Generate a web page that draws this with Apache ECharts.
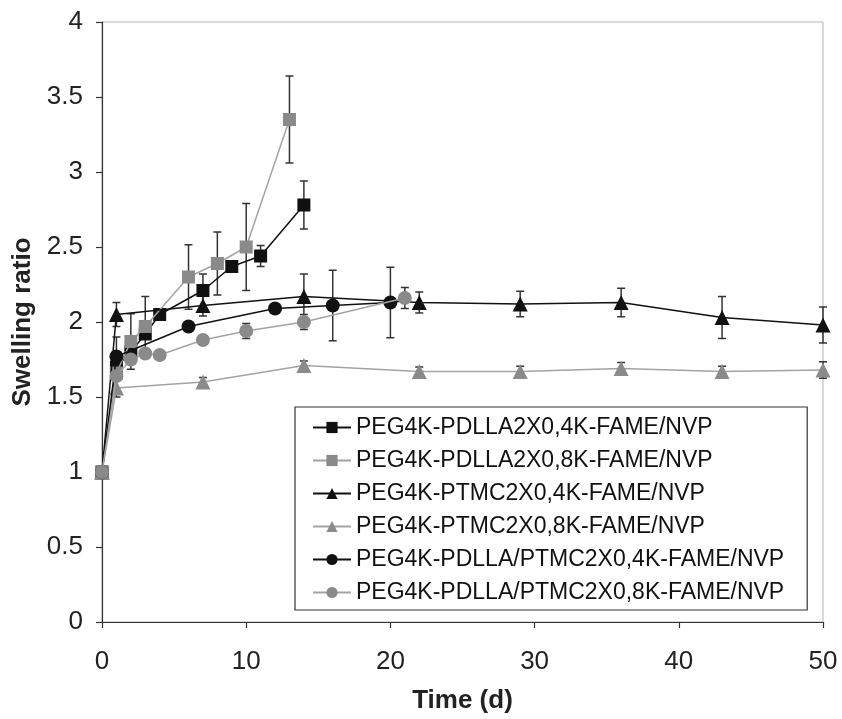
<!DOCTYPE html>
<html>
<head>
<meta charset="utf-8">
<script src="https://cdn.jsdelivr.net/npm/echarts@6/dist/echarts.min.js"></script>
<style>
html,body{margin:0;padding:0;background:#fff;}
#chart{width:842px;height:719px;}
</style>
</head>
<body>
<div id="chart"></div>
<script>
// ---- data ----
var seriesNames = [
  'PEG4K-PDLLA2X0,4K-FAME/NVP',
  'PEG4K-PDLLA2X0,8K-FAME/NVP',
  'PEG4K-PTMC2X0,4K-FAME/NVP',
  'PEG4K-PTMC2X0,8K-FAME/NVP',
  'PEG4K-PDLLA/PTMC2X0,4K-FAME/NVP',
  'PEG4K-PDLLA/PTMC2X0,8K-FAME/NVP'
];
var daysPdlla4k = [0, 1, 2, 3, 4, 7, 9, 11, 14];
var valsPdlla4k = [1, 1.70, 1.80, 1.92, 2.05, 2.21, 2.37, 2.44, 2.78];
var errsPdlla4k = [0, 0.2, 0, 0, 0, 0.11, 0, 0.07, 0.16];

var daysPdlla8k = [0, 1, 2, 3, 6, 8, 10, 13];
var valsPdlla8k = [1, 1.66, 1.87, 1.97, 2.30, 2.39, 2.50, 3.35];
var errsPdlla8k = [0, 0, 0.185, 0.2, 0.215, 0.21, 0.29, 0.29];

var daysPtmc4k = [0, 1, 7, 14, 22, 29, 36, 43, 50];
var valsPtmc4k = [1, 2.05, 2.11, 2.17, 2.13, 2.12, 2.13, 2.03, 1.98];
var errsPtmc4k = [0, 0.08, 0.07, 0.15, 0.07, 0.085, 0.095, 0.14, 0.12];

var daysPtmc8k = [0, 1, 7, 14, 22, 29, 36, 43, 50];
var valsPtmc8k = [1, 1.56, 1.60, 1.71, 1.67, 1.67, 1.69, 1.67, 1.68];
var errsPtmc8k = [0, 0, 0.03, 0.03, 0.03, 0.035, 0.04, 0.035, 0.055];

var daysBlend4k = [0, 1, 6, 12, 16, 20];
var valsBlend4k = [1, 1.77, 1.97, 2.09, 2.11, 2.13];
var errsBlend4k = [0, 0, 0, 0, 0.235, 0.235];

var daysBlend8k = [0, 1, 2, 3, 4, 7, 10, 14, 21];
var valsBlend8k = [1, 1.64, 1.75, 1.79, 1.78, 1.88, 1.94, 2.00, 2.16];
var errsBlend8k = [0, 0, 0, 0, 0, 0, 0.05, 0.05, 0.07];

var xTicks = [0, 10, 20, 30, 40, 50];
var yTicks = [0, 0.5, 1, 1.5, 2, 2.5, 3, 3.5, 4];

// ---- styles ----
var BLACK = '#111111';
var GRAY = '#8a8a8a';
var GRAYLINE = '#a3a3a3';
var FONT = "'Liberation Sans', Arial, sans-serif";

var groups = [
  {d: daysPdlla4k, v: valsPdlla4k, e: errsPdlla4k, sym: 'rect', size: 13, color: BLACK, line: BLACK},
  {d: daysPdlla8k, v: valsPdlla8k, e: errsPdlla8k, sym: 'rect', size: 13, color: GRAY, line: GRAYLINE},
  {d: daysPtmc4k, v: valsPtmc4k, e: errsPtmc4k, sym: 'triangle', size: 15, color: BLACK, line: BLACK},
  {d: daysPtmc8k, v: valsPtmc8k, e: errsPtmc8k, sym: 'triangle', size: 15, color: GRAY, line: GRAYLINE},
  {d: daysBlend4k, v: valsBlend4k, e: errsBlend4k, sym: 'circle', size: 14, color: BLACK, line: BLACK},
  {d: daysBlend8k, v: valsBlend8k, e: errsBlend8k, sym: 'circle', size: 14, color: GRAY, line: GRAYLINE}
];

function pairs(xs, ys) { return xs.map(function (x, i) { return [x, ys[i]]; }); }
function triples(xs, ys, es) {
  var out = [];
  xs.forEach(function (x, i) { if (es[i] > 0) out.push([x, ys[i], es[i]]); });
  return out;
}

function errRender(params, api) {
  var x = api.value(0), y = api.value(1), e = api.value(2);
  var top = api.coord([x, y + e]);
  var bot = api.coord([x, y - e]);
  var cap = 4;
  var st = {stroke: '#333', lineWidth: 1.5};
  return {
    type: 'group',
    children: [
      {type: 'line', shape: {x1: top[0], y1: top[1], x2: bot[0], y2: bot[1]}, style: st},
      {type: 'line', shape: {x1: top[0] - cap, y1: top[1], x2: top[0] + cap, y2: top[1]}, style: st},
      {type: 'line', shape: {x1: bot[0] - cap, y1: bot[1], x2: bot[0] + cap, y2: bot[1]}, style: st}
    ]
  };
}

var series = [];
groups.forEach(function (g, i) {
  series.push({
    type: 'custom',
    name: 'err' + i,
    renderItem: errRender,
    data: triples(g.d, g.v, g.e),
    encode: {x: 0, y: 1},
    z: 1,
    silent: true
  });
});
groups.forEach(function (g, i) {
  series.push({
    type: 'line',
    name: seriesNames[i],
    data: pairs(g.d, g.v),
    symbol: g.sym,
    symbolSize: g.size,
    showAllSymbol: true,
    itemStyle: {color: g.color, borderWidth: 0},
    lineStyle: {color: g.line, width: 1.5},
    z: 3 + i,
    silent: true
  });
});

var chart = echarts.init(document.getElementById('chart'), null, {renderer: 'canvas'});
chart.setOption({
  animation: false,
  backgroundColor: '#fff',
  grid: {left: 102, right: 19, top: 22, bottom: 96, show: true, borderColor: '#b5b5b5', borderWidth: 1},
  xAxis: {
    type: 'value', min: xTicks[0], max: xTicks[xTicks.length - 1], interval: xTicks[1] - xTicks[0],
    name: 'Time (d)', nameLocation: 'middle', nameGap: 66,
    nameTextStyle: {fontFamily: FONT, fontWeight: 'bold', fontSize: 26, color: '#222'},
    axisLine: {show: true, onZero: false, lineStyle: {color: '#333', width: 1.2}},
    axisTick: {show: true, inside: false, length: 6, lineStyle: {color: '#333', width: 1.2}},
    axisLabel: {fontFamily: FONT, fontSize: 26, color: '#222', margin: 27},
    splitLine: {show: false}
  },
  yAxis: {
    type: 'value', min: yTicks[0], max: yTicks[yTicks.length - 1], interval: yTicks[1] - yTicks[0],
    name: 'Swelling ratio', nameLocation: 'middle', nameGap: 61, nameRotate: 90,
    nameTextStyle: {fontFamily: FONT, fontWeight: 'bold', fontSize: 26, color: '#222'},
    axisLine: {show: true, onZero: false, lineStyle: {color: '#333', width: 1.2}},
    axisTick: {show: true, inside: false, length: 6, lineStyle: {color: '#333', width: 1.2}},
    axisLabel: {fontFamily: FONT, fontSize: 26, color: '#222', margin: 19},
    splitLine: {show: false}
  },
  legend: {
    data: seriesNames,
    orient: 'vertical',
    left: 295, top: 407,
    padding: [9, 23, 6, 17],
    itemGap: 10,
    itemWidth: 38, itemHeight: 14,
    selectedMode: false,
    borderColor: '#333', borderWidth: 1.2,
    backgroundColor: '#fff',
    textStyle: {fontFamily: FONT, fontSize: 23, color: '#111', lineHeight: 22}
  },
  series: series
});
</script>
</body>
</html>
